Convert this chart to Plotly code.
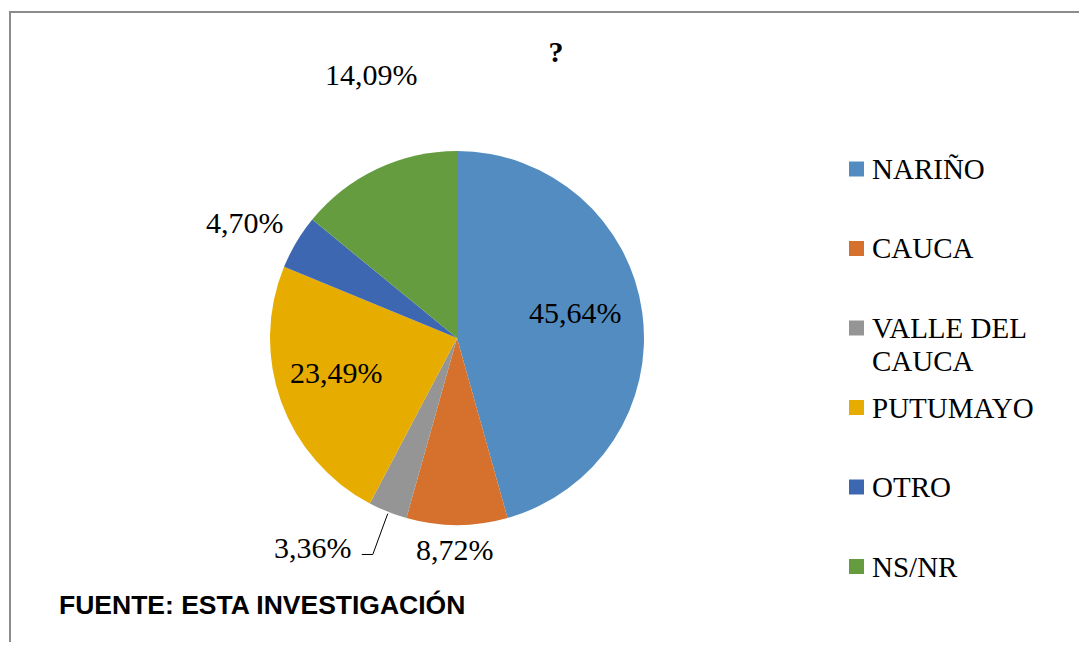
import math
import textwrap
import plotly.graph_objects as go

# ---------------- data ----------------
labels = ["NARIÑO", "CAUCA", "VALLE DEL CAUCA", "PUTUMAYO", "OTRO", "NS/NR"]
values = [45.64, 8.72, 3.36, 23.49, 4.70, 14.09]
colors = ["#528CC0", "#D5712C", "#959595", "#E6AD00", "#3D67B0", "#659C40"]
title_text = "?"
source_text = "FUENTE: ESTA INVESTIGACIÓN"

# ---------------- layout / style ----------------
OFF = 8                       # default page body margin
W, H = 1087 - 2 * OFF, 650 - 2 * OFF
CX, CY, R = 457, 338, 187     # pie centre / radius in window pixels
SERIF = "Liberation Serif, Times New Roman, serif"
SANS = "Liberation Sans, Arial, sans-serif"

# label placement style: (radius factor, angle tweak in degrees)
label_style = [(0.65, -4.2), (1.13, 0.5), (1.36, 12.8), (0.67, 3.8), (1.29, -2.1), (1.48, 7.3)]


def px2paper(x, y):
    return (x - OFF) / W, 1 - (y - OFF) / H


def polar(theta_deg, r):
    t = math.radians(theta_deg)
    return CX + r * math.sin(t), CY - r * math.cos(t)


fig = go.Figure()
dx0, dy0 = px2paper(CX - R, CY + R)
dx1, dy1 = px2paper(CX + R, CY - R)
fig.add_trace(go.Pie(
    labels=labels,
    values=values,
    sort=False,
    direction="clockwise",
    rotation=0,
    marker=dict(colors=colors, line=dict(width=0)),
    textinfo="none",
    hoverinfo="label+percent",
    showlegend=False,
    domain=dict(x=[dx0, dx1], y=[dy0, dy1]),
))

annotations = []
shapes = []

# data labels
total = sum(values)
cum = 0.0
for i, v in enumerate(values):
    mid = (cum + v / 2) / total * 360
    cum += v
    rf, dth = label_style[i]
    lx, ly = polar(mid + dth, rf * R)
    xp, yp = px2paper(lx, ly)
    txt = f"{v:.2f}".replace(".", ",") + "%"
    annotations.append(dict(
        x=xp, y=yp, xref="paper", yref="paper", text=txt, showarrow=False,
        xanchor="center", yanchor="middle", font=dict(family=SERIF, size=30, color="#000000"),
    ))
    if labels[i] == "VALLE DEL CAUCA":
        ex, ey = polar(mid, R)
        a = px2paper(lx + 49, ly + 7)
        b = px2paper(lx + 60, ly + 7)
        c = px2paper(ex, ey + 2)
        shapes.append(dict(
            type="path", xref="paper", yref="paper",
            path=f"M {a[0]} {a[1]} L {b[0]} {b[1]} L {c[0]} {c[1]}",
            line=dict(color="#000000", width=1),
        ))

# manual legend
LEG_X, LEG_Y0, LEG_DY, SQ, LINE_H = 849, 169, 79.5, 15, 33
for i, (lab, col) in enumerate(zip(labels, colors)):
    yc = LEG_Y0 + i * LEG_DY
    x0, y0 = px2paper(LEG_X, yc - SQ / 2)
    x1, y1 = px2paper(LEG_X + SQ, yc + SQ / 2)
    shapes.append(dict(type="rect", xref="paper", yref="paper", x0=x0, x1=x1, y0=y1, y1=y0,
                       fillcolor=col, line=dict(width=0)))
    for k, line in enumerate(textwrap.wrap(lab, width=10)):
        tx, ty = px2paper(LEG_X + 21, yc + k * LINE_H)
        annotations.append(dict(
            x=tx, y=ty, xref="paper", yref="paper", text=line, showarrow=False,
            xanchor="left", yanchor="middle", align="left",
            font=dict(family=SERIF, size=29, color="#000000"),
        ))

# source note
sx, sy = px2paper(57, 605)
annotations.append(dict(
    x=sx, y=sy, xref="paper", yref="paper", text=f"<b>{source_text}</b>", showarrow=False,
    xanchor="left", yanchor="middle", font=dict(family=SANS, size=26.5, color="#000000"),
))

# chart border (left and top edges visible)
bx, by = px2paper(10, 12)
shapes.append(dict(type="rect", xref="paper", yref="paper", x0=bx, x1=1.02, y0=-0.03, y1=by,
                   line=dict(color="#8C8C8C", width=2), fillcolor="rgba(0,0,0,0)"))

tx, ty = px2paper(556, 51)
fig.update_layout(
    width=W, height=H,
    margin=dict(l=0, r=0, t=0, b=0),
    paper_bgcolor="#FFFFFF",
    plot_bgcolor="#FFFFFF",
    title=dict(text=f"<b>{title_text}</b>", x=tx, y=ty, xanchor="center", yanchor="middle",
               font=dict(family=SERIF, size=30, color="#000000")),
    annotations=annotations,
    shapes=shapes,
)

fig.write_html("out.html")
